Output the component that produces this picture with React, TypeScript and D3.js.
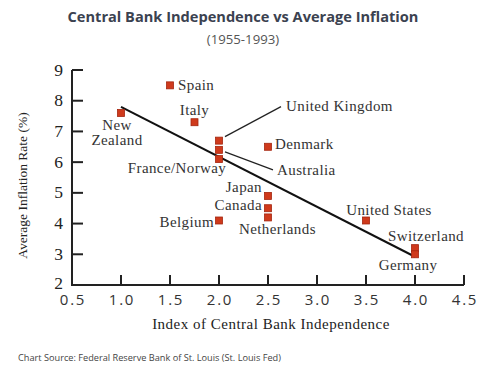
import React from "react";
import * as d3 from "d3";

// Countries, index of central bank independence, average inflation 1955-1993 (%)
const countries = [
  "New Zealand",
  "Spain",
  "Italy",
  "United Kingdom",
  "Australia",
  "France/Norway",
  "Denmark",
  "Japan",
  "Canada",
  "Netherlands",
  "Belgium",
  "United States",
  "Switzerland",
  "Germany",
];
const independence = [1.0, 1.5, 1.75, 2.0, 2.0, 2.0, 2.5, 2.5, 2.5, 2.5, 2.0, 3.5, 4.0, 4.0];
const inflation = [7.6, 8.5, 7.3, 6.7, 6.4, 6.1, 6.5, 4.9, 4.5, 4.2, 4.1, 4.1, 3.2, 3.0];

// fitted trend line endpoints
const trendX = [1.0, 4.0];
const trendY = [7.8, 2.92];

const xTicks = [0.5, 1.0, 1.5, 2.0, 2.5, 3.0, 3.5, 4.0, 4.5];
const yTicks = [2, 3, 4, 5, 6, 7, 8, 9];

// label placement, pixel offsets from the point
type Lbl = { lines: string[]; dx: number; dy: number; anchor: string; leader?: [number, number, number, number] };
const labelLayout: Record<string, Lbl> = {
  "New Zealand": { lines: ["New", "Zealand"], dx: -4, dy: 17, anchor: "middle" },
  Spain: { lines: ["Spain"], dx: 8, dy: 5, anchor: "start" },
  Italy: { lines: ["Italy"], dx: 0, dy: -7, anchor: "middle" },
  "United Kingdom": { lines: ["United Kingdom"], dx: 67, dy: -29.5, anchor: "start", leader: [6, -4, 62, -34] },
  Australia: { lines: ["Australia"], dx: 58, dy: 25.5, anchor: "start", leader: [6, 2, 54, 20] },
  "France/Norway": { lines: ["France/Norway"], dx: -42, dy: 13.5, anchor: "middle" },
  Denmark: { lines: ["Denmark"], dx: 7, dy: 2.5, anchor: "start" },
  Japan: { lines: ["Japan"], dx: -6, dy: -4, anchor: "end" },
  Canada: { lines: ["Canada"], dx: -6, dy: 1.5, anchor: "end" },
  Netherlands: { lines: ["Netherlands"], dx: -29, dy: 17, anchor: "start" },
  Belgium: { lines: ["Belgium"], dx: -5, dy: 6, anchor: "end" },
  "United States": { lines: ["United States"], dx: 23, dy: -5.5, anchor: "middle" },
  Switzerland: { lines: ["Switzerland"], dx: 11, dy: -7, anchor: "middle" },
  Germany: { lines: ["Germany"], dx: -7, dy: 16, anchor: "middle" },
};

const serif = "'Liberation Serif', 'Times New Roman', serif";
const sans = "'Open Sans', sans-serif";

export default function App() {
  const width = 496;
  const height = 372;

  const x = d3.scaleLinear().domain([0.5, 4.5]).range([72, 464]);
  const y = d3.scaleLinear().domain([2, 9]).range([285, 70]);

  const line = d3
    .line<number>()
    .x((d) => x(trendX[d]))
    .y((d) => y(trendY[d]));

  const tickLen = 11;

  return (
    <div style={{ position: "absolute", left: 0, top: 0 }}>
      <svg width={width} height={height} style={{ display: "block", background: "#fff" }}>
        {/* titles */}
        <text x={243} y={22} textAnchor="middle" fontFamily={sans} fontWeight={700} fontSize={14.6} fill="#3b4250">
          Central Bank Independence vs Average Inflation
        </text>
        <text x={243} y={44} textAnchor="middle" fontFamily={sans} fontWeight={400} fontSize={13.2} fill="#555">
          (1955-1993)
        </text>

        {/* axes */}
        <g stroke="#222" strokeWidth={2} fill="none">
          <path d={`M${x(0.5)},${y(9)}V${y(2)}H${x(4.5)}`} />
          {yTicks.slice(1).map((t) => (
            <line key={"yt" + t} x1={x(0.5)} x2={x(0.5) + tickLen} y1={y(t)} y2={y(t)} />
          ))}
          {xTicks.slice(1).map((t) => (
            <line key={"xt" + t} x1={x(t)} x2={x(t)} y1={y(2)} y2={y(2) - tickLen + 1} />
          ))}
        </g>
        <g fontFamily={serif} fontSize={17.5} fill="#222" textAnchor="end">
          {yTicks.map((t) => (
            <text key={"yl" + t} x={x(0.5) - 9} y={y(t) - (t === 2 ? 2 : 0)} dy="0.32em">
              {t}
            </text>
          ))}
        </g>
        <g fontFamily="'Open Sans', sans-serif" fontSize={15} fill="#333" textAnchor="middle" letterSpacing={1.8}>
          {xTicks.map((t) => (
            <text key={"xl" + t} x={x(t) + 1} y={305}>
              {t.toFixed(1)}
            </text>
          ))}
        </g>
        <text
          transform={`translate(27,${(y(2) + y(9)) / 2 + 8}) rotate(-90)`}
          textAnchor="middle"
          fontFamily={serif}
          fontSize={13.5}
          fill="#222"
        >
          Average Inflation Rate (%)
        </text>
        <text x={271} y={329} textAnchor="middle" fontFamily={serif} fontSize={15} letterSpacing={0.5} fill="#222">
          Index of Central Bank Independence
        </text>

        {/* trend line */}
        <path d={line([0, 1]) || ""} stroke="#111" strokeWidth={2} fill="none" />

        {/* points and labels */}
        <g fontFamily={serif} fontSize={15} letterSpacing={0.4} fill="#333">
          {countries.map((c, i) => {
            const px = x(independence[i]);
            const py = y(inflation[i]);
            const l = labelLayout[c];
            return (
              <g key={c}>
                {l.leader && (
                  <line
                    x1={px + l.leader[0]}
                    y1={py + l.leader[1]}
                    x2={px + l.leader[2]}
                    y2={py + l.leader[3]}
                    stroke="#222"
                    strokeWidth={1.2}
                  />
                )}
                <rect x={px - 3.5} y={py - 3.5} width={7} height={7} fill="#cf3a1c" stroke="#a3260f" strokeWidth={0.8} />
                <text x={px + l.dx} y={py + l.dy} textAnchor={l.anchor}>
                  {l.lines.map((s, k) => (
                    <tspan key={k} x={px + l.dx} dy={k === 0 ? 0 : 15}>
                      {s}
                    </tspan>
                  ))}
                </text>
              </g>
            );
          })}
        </g>

        <text x={18} y={361} fontFamily={sans} fontSize={9.2} fill="#444">
          Chart Source: Federal Reserve Bank of St. Louis (St. Louis Fed)
        </text>
      </svg>
    </div>
  );
}
